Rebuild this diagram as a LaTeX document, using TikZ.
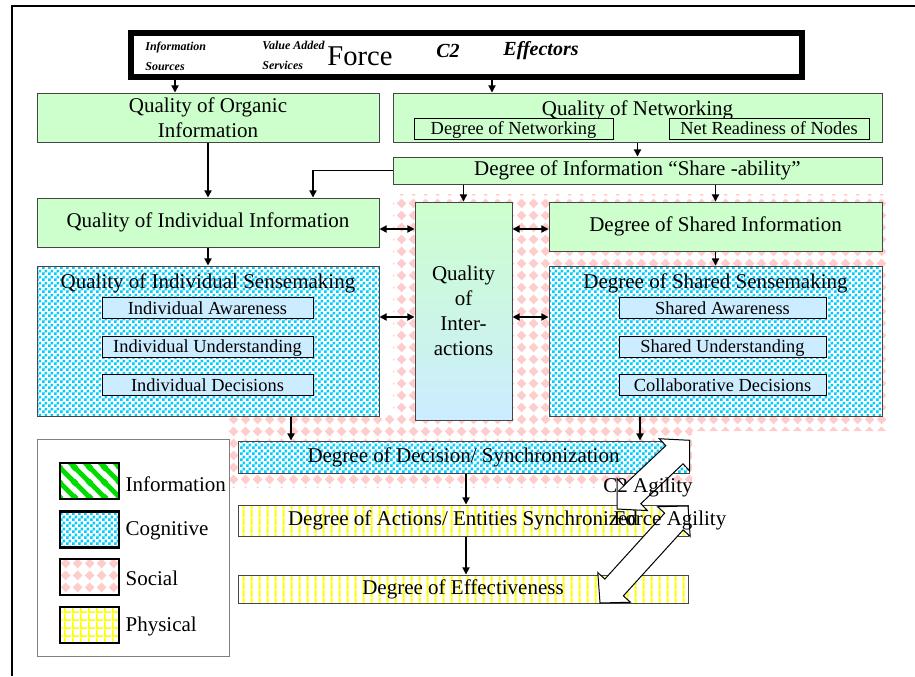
\documentclass[tikz,border=0pt]{standalone}
\usepackage{fontspec}
\setmainfont{Liberation Serif}
\usetikzlibrary{patterns,arrows.meta,positioning}

\definecolor{infogreen}{RGB}{204,255,204}
\definecolor{infoline}{RGB}{0,220,0}
\definecolor{cogcyan}{RGB}{0,204,255}
\definecolor{cogpale}{RGB}{204,236,255}
\definecolor{socpink}{RGB}{255,204,204}
\definecolor{physyellow}{RGB}{255,255,0}
\definecolor{boxedge}{RGB}{70,70,70}

\newcommand\boxfont{\fontsize{10.5}{12.5}\selectfont}
\newcommand\subboxfont{\fontsize{9.2}{11}\selectfont}
\newcommand\topsmallfont{\fontsize{6}{10}\selectfont\bfseries\itshape}
\newcommand\topbigfont{\fontsize{10}{12}\selectfont\bfseries\itshape}
\newcommand\forcefont{\fontsize{14.3}{16}\selectfont}

\pgfdeclarepatternformonly{cogcheck}{\pgfpointorigin}{\pgfqpoint{3pt}{3pt}}{\pgfqpoint{3pt}{3pt}}{%
  \pgfpathrectangle{\pgfpointorigin}{\pgfqpoint{1.5pt}{1.5pt}}%
  \pgfpathrectangle{\pgfqpoint{1.5pt}{1.5pt}}{\pgfqpoint{1.5pt}{1.5pt}}%
  \pgfusepath{fill}}
\pgfdeclarepatternformonly{socdiamond}{\pgfpointorigin}{\pgfqpoint{6pt}{6pt}}{\pgfqpoint{6pt}{6pt}}{%
  \pgfpathmoveto{\pgfqpoint{3pt}{0.4pt}}\pgfpathlineto{\pgfqpoint{5.6pt}{3pt}}%
  \pgfpathlineto{\pgfqpoint{3pt}{5.6pt}}\pgfpathlineto{\pgfqpoint{0.4pt}{3pt}}%
  \pgfpathclose\pgfusepath{fill}}
\pgfdeclarepatternformonly{physvlines}{\pgfpointorigin}{\pgfqpoint{3.75pt}{4pt}}{\pgfqpoint{3.75pt}{4pt}}{%
  \pgfpathrectangle{\pgfqpoint{1.4pt}{0pt}}{\pgfqpoint{1pt}{4pt}}\pgfusepath{fill}}
\pgfdeclarepatternformonly{physgrid}{\pgfpointorigin}{\pgfqpoint{4pt}{4pt}}{\pgfqpoint{4pt}{4pt}}{%
  \pgfpathrectangle{\pgfpointorigin}{\pgfqpoint{0.9pt}{4pt}}%
  \pgfpathrectangle{\pgfpointorigin}{\pgfqpoint{4pt}{0.9pt}}\pgfusepath{fill}}
\pgfdeclarepatternformonly{infostripes}{\pgfpointorigin}{\pgfqpoint{7.5pt}{7.5pt}}{\pgfqpoint{7.5pt}{7.5pt}}{%
  \pgfsetlinewidth{2.5pt}%
  \pgfpathmoveto{\pgfqpoint{-1pt}{8.5pt}}\pgfpathlineto{\pgfqpoint{8.5pt}{-1pt}}%
  \pgfpathmoveto{\pgfqpoint{-1pt}{1pt}}\pgfpathlineto{\pgfqpoint{1pt}{-1pt}}%
  \pgfpathmoveto{\pgfqpoint{6.5pt}{8.5pt}}\pgfpathlineto{\pgfqpoint{8.5pt}{6.5pt}}%
  \pgfusepath{stroke}}

\begin{document}
\begin{tikzpicture}[x=0.5pt,y=-0.5pt]
\tikzstyle{every node}+=[inner sep=0pt, font=\boxfont]
\tikzstyle{infobox}=[draw=boxedge, fill=infogreen, line width=0.5pt]
\tikzstyle{cogbox}=[draw=boxedge, line width=0.5pt, preaction={fill=white}, pattern=cogcheck, pattern color=cogcyan]
\tikzstyle{physbox}=[draw=boxedge, line width=0.5pt, preaction={fill=white}, pattern=physvlines, pattern color=physyellow]
\tikzstyle{subbox}=[draw=black, line width=0.5pt, fill=cogpale, minimum height=10.5pt, text depth=0pt, font=\subboxfont]
\tikzstyle{netbox}=[draw=black, line width=0.5pt, fill=infogreen, minimum height=10.5pt, text depth=0pt, font=\subboxfont]
\tikzstyle{swatch}=[draw=black, line width=1.2pt, minimum width=29.5pt, minimum height=18pt, preaction={fill=white}]
\tikzstyle{arr}=[-{Triangle[length=3.6pt,width=3.6pt]}, line width=0.7pt]
\tikzstyle{dblarr}=[{Triangle[length=3.6pt,width=3.6pt]}-{Triangle[length=3.6pt,width=3.6pt]}, line width=0.7pt]
\useasboundingbox (0,0) rectangle (915,676);
\fill[pattern=socdiamond, pattern color=socpink] (393,194) -- (887,194) -- (887,431) -- (692,431) -- (692,488) -- (228,488) -- (228,415) -- (393,415) -- cycle;
\draw[line width=0.9pt] (12,676) -- (12,6) -- (915,6);
\node[draw, line width=2.6pt, minimum width=335.5pt, minimum height=22pt] (forcebox) at (466.5,55) {};
\node[font=\topsmallfont, align=left, anchor=west] (sources) at (145,56) {Information\\Sources};
\node[font=\topsmallfont, align=left, anchor=west] (services) at (262,55) {Value Added\\Services};
\node[font=\forcefont] (force) at (360,56) {Force};
\node[font=\topbigfont] (ctwo) at (448,51) {C2};
\node[font=\topbigfont] (effectors) at (541,51) {Effectors};
\node[infobox, minimum width=171pt, minimum height=24.5pt, align=center] (organic) at (208,117.5) {Quality of Organic\\Information};
\node[infobox, minimum width=244.5pt, minimum height=24.5pt] (networking) at (637.5,117.5) {};
\node[anchor=base] (networktitle) at (637.5,115) {Quality of Networking};
\node[netbox, minimum width=99.5pt] (degnet) at (513.5,128.5) {Degree of Networking};
\node[netbox, minimum width=100pt] (netready) at (769,128.5) {Net Readiness of Nodes};
\node[infobox, minimum width=244.5pt, minimum height=13.5pt] (shareability) at (637.5,170.5) {Degree of Information “Share -ability”};
\node[infobox, minimum width=171pt, minimum height=24.5pt] (indinfo) at (208,222.5) {Quality of Individual Information};
\node[draw=boxedge, line width=0.5pt, top color=infogreen, bottom color=cogpale, minimum width=48.5pt, minimum height=109pt, align=center] (interact) at (463.5,311) {Quality\\of\\Inter-\\actions};
\node[infobox, minimum width=166.5pt, minimum height=24.5pt] (shinfo) at (715.5,226.5) {Degree of Shared Information};
\node[cogbox, minimum width=171pt, minimum height=75pt] (indsense) at (208,341) {};
\node[anchor=base] (indsensetitle) at (208,288) {Quality of Individual Sensemaking};
\node[subbox, minimum width=105.5pt] (indaware) at (207.5,308) {Individual Awareness};
\node[subbox, minimum width=105.5pt] (indunder) at (207.5,346.5) {Individual Understanding};
\node[subbox, minimum width=105.5pt] (inddecide) at (207.5,385) {Individual Decisions};
\node[cogbox, minimum width=166.5pt, minimum height=75pt] (shsense) at (715.5,341) {};
\node[anchor=base] (shsensetitle) at (715.5,288) {Degree of Shared Sensemaking};
\node[subbox, minimum width=103.5pt] (shaware) at (722.5,308) {Shared Awareness};
\node[subbox, minimum width=103.5pt] (shunder) at (722.5,346.5) {Shared Understanding};
\node[subbox, minimum width=103.5pt] (shdecide) at (722.5,385) {Collaborative Decisions};
\node[cogbox, minimum width=225.5pt, minimum height=16pt] (decision) at (463.5,457) {Degree of Decision/ Synchronization};
\node[physbox, minimum width=225pt, minimum height=15.5pt] (actions) at (463,520.5) {Degree of Actions/ Entities Synchronized};
\node[physbox, minimum width=225pt, minimum height=14pt] (effect) at (463,589) {Degree of Effectiveness};
\node[draw=gray, line width=0.5pt, fill=white, minimum width=96pt, minimum height=108.5pt] (legend) at (133,547.5) {};
\node[swatch, pattern=infostripes, pattern color=infoline] (swinfo) at (89.5,481) {};
\node[swatch, pattern=cogcheck, pattern color=cogcyan] (swcog) at (89.5,529.5) {};
\node[swatch, pattern=socdiamond, pattern color=socpink] (swsoc) at (89.5,577) {};
\node[swatch, pattern=physgrid, pattern color=physyellow] (swphys) at (89.5,625) {};
\node[right=2.5pt of swinfo, yshift=-1.5pt] (lbinfo) {Information};
\node[right=2.5pt of swcog, yshift=-0.5pt] (lbcog) {Cognitive};
\node[right=2.5pt of swsoc, yshift=-0.5pt] (lbsoc) {Social};
\node[right=2.5pt of swphys, yshift=-0.5pt] (lbphys) {Physical};
\draw[arr] (forcebox.south -| 175,0) -- (organic.north -| 175,0);
\draw[arr] (forcebox.south -| 492,0) -- (networking.north -| 492,0);
\draw[arr] (organic.south) -- (indinfo.north);
\draw[arr] (networking.south) -- (shareability.north);
\draw[arr] (shareability.west) -| (indinfo.north -| 313,0);
\draw[arr] (shareability.south -| interact.north) -- (interact.north);
\draw[arr] (shareability.south -| shinfo.north) -- (shinfo.north);
\draw[arr] (indinfo.south) -- (indsense.north);
\draw[arr] (shinfo.south) -- (shsense.north);
\draw[dblarr] (indinfo.east |- 0,229) -- (interact.west |- 0,229);
\draw[dblarr] (interact.east |- 0,229) -- (shinfo.west |- 0,229);
\draw[dblarr] (indsense.east |- 0,317) -- (interact.west |- 0,317);
\draw[dblarr] (interact.east |- 0,317) -- (shsense.west |- 0,317);
\draw[arr] (indsense.south -| 291,0) -- (decision.north -| 291,0);
\draw[arr] (shsense.south -| 640,0) -- (decision.north -| 640,0);
\draw[arr] (decision.south -| 466,0) -- (actions.north -| 466,0);
\draw[arr] (actions.south -| 466,0) -- (effect.north -| 466,0);
\begin{scope}[shift={(617,509)}, rotate=43.4]
\draw[fill=white, line width=0.5pt] (0,0) -- (21,22) -- (21,12.5) -- (79,12.5) -- (79,22) -- (100,0) -- (79,-22) -- (79,-12.5) -- (21,-12.5) -- (21,-22) -- cycle;
\end{scope}
\begin{scope}[shift={(600,603)}, rotate=47.8]
\draw[fill=white, line width=0.5pt] (0,0) -- (21,22) -- (21,12.5) -- (110,12.5) -- (110,22) -- (131,0) -- (110,-22) -- (110,-12.5) -- (21,-12.5) -- (21,-22) -- cycle;
\end{scope}
\node (ctwoagility) at (648,487) {C2 Agility};
\node (forceagility) at (670,520) {Force Agility};
\end{tikzpicture}
\end{document}
